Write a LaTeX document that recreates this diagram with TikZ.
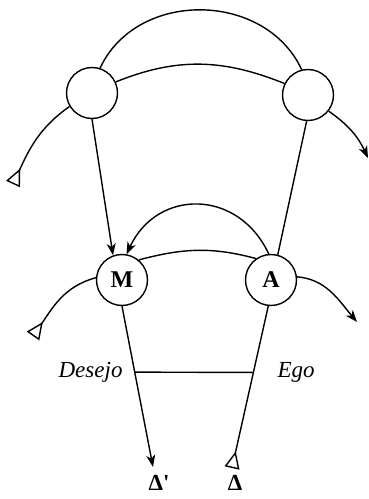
\documentclass[tikz,border=0pt]{standalone}
\usepackage{fontspec}
\setmainfont{Liberation Serif}
\usetikzlibrary{arrows.meta,positioning}

\begin{document}
\begin{tikzpicture}[x=1pt,y=1pt,
		vert/.style={draw, circle, line width=1.4pt, minimum size=51pt, inner sep=0pt, font=\fontsize{24}{24}\selectfont\bfseries},
		vec/.style={line width=1.4pt},
		tip/.style={-{Stealth[length=12pt,width=9pt,inset=3.5pt]}},
		tail/.style={-{Triangle[open,reversed,length=17pt,width=15pt,line width=1.4pt]}},
		lbl/.style={inner sep=0pt, font=\fontsize{23}{23}\selectfont}]
		
		\useasboundingbox (0,0) rectangle (369,499);
		
		% Upper nodes (empty)
		\node[vert] (s1) at (92,406) {};
		\node[vert] (s2) at (308,404) {};
		
		% Lower nodes
		\node[vert] (M) at (122,219) {M};
		\node[vert] (A) at (271,219) {A};
		
		% Free ends of the tails
		\coordinate (t1) at (13,315);
		\coordinate (t2) at (368,341);
		\coordinate (t3) at (33,163);
		\coordinate (t4) at (357,177);
		\coordinate (dp) at (153,32);
		\coordinate (d) at (232,31);
		
		% Upper arcs and tails
		\draw[vec] (s1.72) to[out=65,in=115,looseness=1.1] (s2.104);
		\draw[vec] (s1.25) to[out=22,in=158] (s2.154);
		\draw[vec,tail] (s1.211) to[out=215,in=65] (t1);
		\draw[vec,tip] (s2.-38) to[out=-35,in=115] (t2);
		
		% Down to the lower nodes
		\draw[vec,tip] (s1.south) -- (M.110);
		\draw[vec] (s2.-93) -- (A.75);
		
		% Lower arcs and tails
		\draw[vec,tip] (A.95) to[out=115,in=65,looseness=1.3] (M.80);
		\draw[vec] (M.50) to[out=15,in=165] (A.125);
		\draw[vec,tail] (M.175) to[out=195,in=55] (t3);
		\draw[vec,tip] (A.7) to[out=-5,in=130] (t4);
		
		% Vectors to the Deltas
		\draw[vec,tip] (M.south) -- coordinate[pos=0.41] (d1) (dp);
		\draw[vec,tail] (A.-96) -- coordinate[pos=0.41] (d2) (d);
		\draw[vec] (d1) -- (d2);
		
		\node[lbl, left=12pt of d1] (des) {\itshape Desejo};
		\node[lbl, right=24pt of d2] (ego) {\itshape Ego};
		\node[lbl, below=8pt of dp, xshift=6pt] (ldp) {\textbf{Δ\textquotesingle}};
		\node[lbl, below=7pt of d, xshift=3pt] (ld) {\textbf{Δ}};
		
	\end{tikzpicture}
\end{document}
